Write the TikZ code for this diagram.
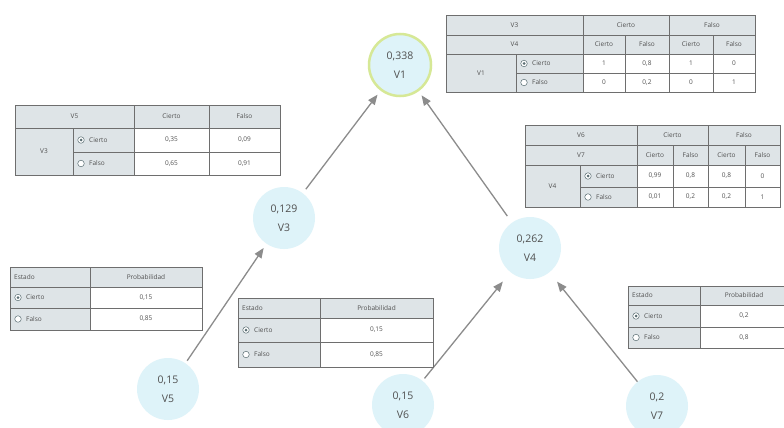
\documentclass[tikz,border=0pt]{standalone}
\usepackage{fontspec}
\setmainfont{Open Sans}
\usetikzlibrary{arrows.meta}
\definecolor{nodefill}{RGB}{222,243,249}
\definecolor{ringc}{RGB}{214,232,150}
\definecolor{arrowc}{RGB}{140,140,140}
\definecolor{hdr}{RGB}{222,228,231}
\definecolor{gridc}{RGB}{110,110,110}
\definecolor{txt}{RGB}{80,80,80}
\definecolor{radc}{RGB}{90,110,115}
\tikzset{
  bn/.style={circle, fill=nodefill, minimum size=62pt, inner sep=0pt, align=center,
    font=\fontsize{10.5}{12}\selectfont, text=txt},
  arr/.style={draw=arrowc, line width=1.3pt, -{Triangle[length=10pt,width=8pt]}},
  hcell/.style={draw=gridc, fill=hdr, line width=0.9pt},
  vcell/.style={draw=gridc, fill=white, line width=0.9pt},
  ctext/.style={font=\fontsize{6.5}{8}\selectfont, text=txt, inner sep=0pt},
  radio/.style={circle, draw=radc, fill=white, minimum size=6.5pt, inner sep=0pt, line width=0.5pt},
}
% cell: name, x1, y1, x2, y2, style, text
\newcommand\tblcell[7]{\draw[#6] (#2,#3) rectangle (#4,#5);
  \node[ctext] (#1) at ({(#2+#4)/2},{(#3+#5)/2}) {#7};}
% state cell: name, x1, y1, x2, y2, filled(1/0), text
\newcommand\stcell[7]{\draw[hcell] (#2,#3) rectangle (#4,#5);
  \node[radio] (#1r) at ({#2+8},{(#3+#5)/2}) {};
  \ifnum#6=1 \fill[radc] (#1r.center) circle (1.5pt);\fi
  \node[ctext, anchor=west] (#1) at ({#2+16},{(#3+#5)/2}) {#7};}
% left aligned header: name, x1, y1, x2, y2, text
\newcommand\lhcell[6]{\draw[hcell] (#2,#3) rectangle (#4,#5);
  \node[ctext, anchor=west] (#1) at ({#2+4},{(#3+#5)/2}) {#6};}
\begin{document}
\begin{tikzpicture}[x=1pt,y=-1pt]
\useasboundingbox (0,0) rectangle (784,428);
\fill[white] (0,0) rectangle (784,428);
\clip (0,0) rectangle (784,428);

% ---------- nodes ----------
\node[bn, draw=ringc, line width=2.5pt, minimum size=62pt] (v1) at (400,65) {0,338\\[7pt]V1};
\node[bn] (v3) at (284,218) {0,129\\[7pt]V3};
\node[bn] (v4) at (530,248) {0,262\\[7pt]V4};
\node[bn] (v5) at (168,389) {0,15\\[7pt]V5};
\node[bn] (v6) at (403,405) {0,15\\[7pt]V6};
\node[bn] (v7) at (657,406) {0,2\\[7pt]V7};

% ---------- arrows ----------
\draw[arr, shorten <=5pt, shorten >=5pt] (v3) -- (v1);
\draw[arr, shorten <=8pt, shorten >=5pt] (v4) -- (v1);
\draw[arr, shorten <=3pt, shorten >=5pt] (v5) -- (v3);
\draw[arr, shorten <=3pt, shorten >=12pt] (v6) -- (v4);
\draw[arr, shorten <=0pt, shorten >=12pt] (v7) -- (v4);

% ---------- CPT of V1 ----------
\tblcell{a11}{446}{15}{583}{35}{hcell}{V3}
\tblcell{a12}{583}{15}{669}{35}{hcell}{Cierto}
\tblcell{a13}{669}{15}{755}{35}{hcell}{Falso}
\tblcell{a21}{446}{35}{583}{54}{hcell}{V4}
\tblcell{a22}{583}{35}{625}{54}{hcell}{Cierto}
\tblcell{a23}{625}{35}{669}{54}{hcell}{Falso}
\tblcell{a24}{669}{35}{713}{54}{hcell}{Cierto}
\tblcell{a25}{713}{35}{755}{54}{hcell}{Falso}
\tblcell{a3l}{446}{54}{516}{92}{hcell}{V1}
\stcell{a3s}{516}{54}{583}{73}{1}{Cierto}
\stcell{a4s}{516}{73}{583}{92}{0}{Falso}
\tblcell{a31}{583}{54}{625}{73}{vcell}{1}
\tblcell{a32}{625}{54}{669}{73}{vcell}{0,8}
\tblcell{a33}{669}{54}{713}{73}{vcell}{1}
\tblcell{a34}{713}{54}{755}{73}{vcell}{0}
\tblcell{a41}{583}{73}{625}{92}{vcell}{0}
\tblcell{a42}{625}{73}{669}{92}{vcell}{0,2}
\tblcell{a43}{669}{73}{713}{92}{vcell}{0}
\tblcell{a44}{713}{73}{755}{92}{vcell}{1}

% ---------- CPT of V3 ----------
\tblcell{b11}{15}{105}{134}{128}{hcell}{V5}
\tblcell{b12}{134}{105}{209}{128}{hcell}{Cierto}
\tblcell{b13}{209}{105}{280}{128}{hcell}{Falso}
\tblcell{b2l}{15}{128}{73}{175}{hcell}{V3}
\stcell{b2s}{73}{128}{134}{152}{1}{Cierto}
\stcell{b3s}{73}{152}{134}{175}{0}{Falso}
\tblcell{b21}{134}{128}{209}{152}{vcell}{0,35}
\tblcell{b22}{209}{128}{280}{152}{vcell}{0,09}
\tblcell{b31}{134}{152}{209}{175}{vcell}{0,65}
\tblcell{b32}{209}{152}{280}{175}{vcell}{0,91}

% ---------- CPT of V4 ----------
\tblcell{c11}{525}{125}{637}{145}{hcell}{V6}
\tblcell{c12}{637}{125}{708}{145}{hcell}{Cierto}
\tblcell{c13}{708}{125}{780}{145}{hcell}{Falso}
\tblcell{c21}{525}{145}{637}{165}{hcell}{V7}
\tblcell{c22}{637}{145}{673}{165}{hcell}{Cierto}
\tblcell{c23}{673}{145}{708}{165}{hcell}{Falso}
\tblcell{c24}{708}{145}{745}{165}{hcell}{Cierto}
\tblcell{c25}{745}{145}{780}{165}{hcell}{Falso}
\tblcell{c3l}{525}{165}{580}{207}{hcell}{V4}
\stcell{c3s}{580}{165}{637}{187}{1}{Cierto}
\stcell{c4s}{580}{187}{637}{207}{0}{Falso}
\tblcell{c31}{637}{165}{673}{187}{vcell}{0,99}
\tblcell{c32}{673}{165}{708}{187}{vcell}{0,8}
\tblcell{c33}{708}{165}{745}{187}{vcell}{0,8}
\tblcell{c34}{745}{165}{780}{187}{vcell}{0}
\tblcell{c41}{637}{187}{673}{207}{vcell}{0,01}
\tblcell{c42}{673}{187}{708}{207}{vcell}{0,2}
\tblcell{c43}{708}{187}{745}{207}{vcell}{0,2}
\tblcell{c44}{745}{187}{780}{207}{vcell}{1}

% ---------- prior of V5 ----------
\lhcell{d11}{10}{267}{90}{287}{Estado}
\tblcell{d12}{90}{267}{202}{287}{hcell}{Probabilidad}
\stcell{d2s}{10}{287}{90}{308}{1}{Cierto}
\tblcell{d22}{90}{287}{202}{308}{vcell}{0,15}
\stcell{d3s}{10}{308}{90}{330}{0}{Falso}
\tblcell{d32}{90}{308}{202}{330}{vcell}{0,85}

% ---------- prior of V6 ----------
\lhcell{e11}{238}{298}{320}{318}{Estado}
\tblcell{e12}{320}{298}{433}{318}{hcell}{Probabilidad}
\stcell{e2s}{238}{318}{320}{342}{1}{Cierto}
\tblcell{e22}{320}{318}{433}{342}{vcell}{0,15}
\stcell{e3s}{238}{342}{320}{367}{0}{Falso}
\tblcell{e32}{320}{342}{433}{367}{vcell}{0,85}

% ---------- prior of V7 ----------
\lhcell{f11}{628}{286}{700}{305}{Estado}
\tblcell{f12}{700}{286}{788}{305}{hcell}{Probabilidad}
\stcell{f2s}{628}{305}{700}{327}{1}{Cierto}
\tblcell{f22}{700}{305}{788}{327}{vcell}{0,2}
\stcell{f3s}{628}{327}{700}{348}{0}{Falso}
\tblcell{f32}{700}{327}{788}{348}{vcell}{0,8}
\end{tikzpicture}
\end{document}
